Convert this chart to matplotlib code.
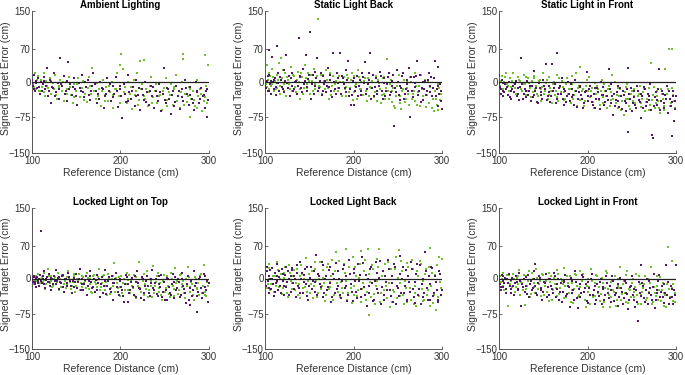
import matplotlib
matplotlib.use("Agg")
import matplotlib.pyplot as plt

plt.rcParams['font.family'] = ['Liberation Sans', 'DejaVu Sans']

titles = ["Ambient Lighting", "Static Light Back", "Static Light in Front",
          "Locked Light on Top", "Locked Light Back", "Locked Light in Front"]
x_ticks = [100, 200, 300]
y_ticks = [-150, -75, 0, 70, 150]
x_label = "Reference Distance (cm)"
y_label = "Signed Target Error (cm)"

# ---------------- Ambient Lighting ----------------
amb_purple = [(100,5),(101,-8),(102,15),(103,-20),(104,2),(106,-12),(107,8),(109,-25),(110,0),(112,-5),(114,10),(115,-15),(117,30),(118,-30),(120,5),(121,-45),(123,-10),(125,20),(127,-22),(129,-3),(131,-35),(132,50),(134,-8),(136,12),(138,-18),(140,-40),(141,42),(143,-5),(145,-28),(147,8),(149,-15),(151,-48),(153,-2),(155,-20),(157,15),(159,-32),(161,-10),(163,5),(165,-38),(167,-18),(169,18),(171,-5),(173,-45),(175,-25),(177,0),(179,-12),(181,-55),(183,-30),(185,8),(187,-20),(189,-40),(191,-8),(193,-25),(195,10),(197,-52),(199,-15),(201,-30),(202,-77),(204,-5),(206,-42),(208,15),(210,-22),(212,-35),(214,-10),(216,-50),(218,5),(220,-28),(222,-60),(224,-15),(226,-38),(228,0),(230,-22),(232,-48),(234,-8),(236,-30),(238,-55),(240,-18),(242,-40),(244,-5),(246,-62),(248,-25),(249,30),(251,-45),(253,-12),(255,-35),(257,-68),(259,-20),(261,-50),(263,-8),(265,-30),(267,-58),(269,-15),(271,-40),(273,5),(275,-25),(277,-48),(279,-10),(281,-35),(283,-60),(285,0),(287,-22),(289,-45),(291,-12),(293,-30),(295,-55),(297,-20),(298,-75),(299,-38)]
amb_purple2 = [(100.5,-3),(102.5,-15),(105,-2),(108,-10),(111,-18),(113,2),(116,-8),(119,-20),(122,0),(124,-12),(126,-30),(130,-15),(133,-5),(137,-25),(139,3),(142,-15),(146,-10),(150,-30),(154,-12),(158,-22),(160,0),(164,-28),(168,-8),(172,-20),(176,-35),(180,-15),(184,-25),(188,-5),(192,-32),(196,-18),(200,-8),(205,-25),(209,-40),(213,-18),(217,-30),(221,-12),(225,-28),(229,-42),(233,-20),(237,-10),(241,-30),(245,-22),(250,-38),(254,-15),(258,-28),(262,-42),(266,-18),(270,-32),(274,-12),(278,-28),(282,-45),(286,-20),(290,-35),(294,-28),(298,-15)]
amb_green = [(100,10),(101,-5),(103,20),(104,-15),(105,0),(107,12),(108,-20),(110,5),(111,-10),(113,18),(115,-30),(116,3),(118,-12),(120,8),(122,-25),(124,-2),(126,15),(128,-35),(130,-8),(132,5),(134,-20),(136,-40),(138,0),(140,-15),(142,10),(144,-28),(146,-45),(148,-5),(150,-18),(152,8),(154,-32),(156,-12),(158,2),(160,-25),(162,-42),(164,10),(166,-8),(168,30),(170,-20),(172,-35),(174,-2),(176,-15),(178,-50),(180,5),(182,-28),(184,-10),(186,-40),(188,-22),(190,0),(192,-55),(194,-15),(196,20),(198,-30),(200,35),(201,60),(203,28),(205,-10),(207,-45),(209,0),(211,-25),(213,-58),(215,5),(217,-20),(219,20),(221,-38),(222,45),(224,-5),(226,-30),(227,47),(229,-15),(231,-50),(233,-8),(235,10),(237,-32),(239,-20),(241,-45),(243,-3),(245,-28),(247,-60),(249,-12),(251,8),(253,-38),(255,-22),(257,-5),(259,-48),(261,-15),(263,15),(265,-30),(267,-55),(269,0),(271,60),(271,48),(273,-25),(275,-42),(277,-10),(278,-75),(280,-35),(282,-20),(284,-50),(286,5),(288,-30),(290,-15),(292,-62),(294,-40),(296,58),(297,-8),(299,35)]
amb_green2 = [(100.5,0),(102,-10),(106,5),(109,-18),(112,-2),(114,-22),(117,-8),(121,2),(125,-15),(127,-28),(131,-12),(135,0),(139,-25),(143,-10),(147,-32),(151,-5),(155,-20),(159,-38),(163,-12),(167,-25),(171,-5),(175,-30),(179,-18),(183,-40),(187,-8),(191,-28),(195,-15),(199,-45),(204,-22),(208,-35),(212,-10),(216,-28),(220,-48),(223,-15),(228,-35),(232,-22),(236,-45),(240,-5),(244,-30),(248,-18),(252,-50),(256,-28),(260,-10),(264,-40),(268,-22),(272,-48),(276,-30),(279,-15),(283,-38),(287,-55),(291,-25),(295,-32),(298,-45)]

# ---------------- Static Light Back ----------------
sback_purple = [(100,10),(101,-12),(102,3),(103,-20),(104,68),(105,15),(106,-5),(107,-25),(108,52),(109,0),(110,-15),(111,8),(112,-28),(113,75),(114,-3),(115,20),(116,-18),(118,5),(119,-10),(121,25),(122,-22),(124,57),(125,-2),(127,12),(128,-30),(130,-8),(131,18),(133,-15),(135,3),(136,-25),(138,94),(139,10),(141,-12),(143,28),(144,-5),(146,58),(147,-20),(149,6),(151,106),(152,-35),(154,15),(156,-8),(157,22),(159,51),(160,-18),(162,2),(164,-28),(165,12),(167,-5),(169,-22),(171,30),(172,-10),(174,5),(176,-32),(177,61),(179,-15),(181,18),(183,-3),(185,62),(186,-25),(188,8),(190,-12),(192,25),(194,44),(195,-30),(197,-49),(199,3),(201,-49),(202,-18),(204,12),(206,-8),(208,-28),(210,20),(212,-2),(213,43),(215,-15),(217,5),(219,61),(220,-35),(222,15),(224,-10),(226,-25),(228,0),(230,22),(232,-18),(234,8),(236,-30),(238,-5),(240,18),(242,-22),(244,2),(246,-94),(247,-12),(249,25),(251,-28),(253,-8),(255,12),(257,-35),(259,-15),(261,5),(263,30),(264,-73),(266,-20),(268,10),(270,-2),(272,44),(273,-28),(275,15),(277,-12),(279,-38),(281,3),(283,-20),(285,20),(287,-8),(289,-30),(291,8),(292,44),(294,-15),(295,-50),(296,31),(297,-25),(298,-5),(299,-40),(300,-58)]
sback_purple2 = [(100.5,-8),(103,12),(105,-18),(107,2),(110,5),(112,-10),(115,-2),(117,10),(120,-15),(123,2),(126,-12),(129,8),(132,-20),(134,0),(137,-8),(140,12),(142,-22),(145,3),(148,-10),(150,15),(153,-5),(155,-25),(158,8),(161,-12),(163,18),(166,-20),(168,2),(170,-8),(173,15),(175,-18),(178,0),(180,-25),(182,8),(184,-12),(187,12),(189,-5),(191,-22),(193,5),(196,-15),(198,-28),(200,8),(203,-10),(205,-30),(207,5),(209,-18),(211,10),(214,-25),(216,-5),(218,20),(221,-12),(223,-30),(225,8),(227,-18),(229,-8),(231,12),(233,-35),(235,-2),(237,-20),(239,10),(241,-28),(243,-8),(245,15),(248,-22),(250,0),(252,-38),(254,-12),(256,18),(258,-25),(260,-5),(262,-18),(265,10),(267,-32),(269,-10),(271,12),(274,-20),(276,-42),(278,0),(280,-15),(282,-28),(284,5),(286,-22),(288,10),(290,-12),(293,-30),(296,-8),(299,-20)]
sback_green = [(100,20),(101,-5),(102,35),(103,5),(104,-15),(106,12),(107,-8),(108,28),(110,-20),(111,2),(113,15),(114,-12),(116,40),(117,-25),(118,51),(119,8),(121,-5),(123,20),(124,-30),(126,5),(128,-15),(129,32),(131,-8),(133,12),(135,-22),(137,22),(138,0),(140,-35),(142,10),(144,-12),(145,35),(147,-5),(149,18),(151,-25),(153,3),(155,28),(156,-15),(158,8),(160,134),(161,-8),(163,15),(165,-20),(167,2),(169,25),(171,-12),(173,5),(175,-28),(177,12),(179,-5),(181,20),(183,-18),(185,0),(187,-30),(189,10),(191,-10),(193,15),(195,-22),(197,5),(199,-38),(201,12),(203,-5),(205,25),(207,-15),(209,0),(211,-28),(213,8),(215,-40),(217,18),(219,-10),(221,3),(223,-32),(225,12),(227,-20),(229,-3),(231,-45),(233,8),(235,-25),(237,-12),(238,49),(240,-35),(242,5),(244,-20),(246,-50),(247,-55),(249,-8),(251,15),(253,-30),(254,-58),(256,-15),(258,-42),(260,2),(262,-25),(264,10),(266,-35),(268,-18),(270,20),(272,-48),(274,-8),(276,15),(278,-30),(280,-15),(282,-52),(284,0),(286,-22),(288,10),(289,-55),(291,-62),(293,-35),(295,-60),(297,-12),(299,-25)]
sback_green2 = [(100.5,5),(102,-10),(105,18),(108,-5),(109,10),(112,-15),(115,5),(117,-8),(120,25),(122,-18),(125,10),(127,-5),(130,-20),(132,15),(134,-10),(136,5),(139,-15),(141,20),(143,-25),(146,8),(148,-12),(150,2),(152,15),(154,-20),(157,-5),(159,12),(162,-10),(164,-25),(166,15),(168,-15),(170,5),(172,-35),(174,18),(176,-8),(178,-20),(180,3),(182,-12),(184,12),(186,-25),(188,0),(190,-15),(192,-30),(194,8),(196,-12),(198,18),(200,-22),(202,-8),(204,-35),(206,10),(208,-15),(210,-28),(212,3),(214,-18),(216,8),(218,-30),(220,-12),(222,15),(224,-22),(226,-40),(228,5),(230,-15),(232,-28),(234,10),(236,-35),(239,-20),(241,-5),(243,-42),(245,-12),(248,-30),(250,0),(252,-45),(255,-20),(257,5),(259,-35),(261,-12),(263,-48),(265,0),(267,-25),(269,-40),(271,-8),(273,-22),(275,-50),(277,-15),(279,-38),(281,5),(283,-28),(285,-45),(287,-10),(290,-35),(292,-20),(294,-48),(296,-5),(298,-38)]

# ---------------- Static Light in Front ----------------
sfront_purple = [(100,15),(101,-10),(102,-25),(103,5),(104,-18),(105,-30),(107,-5),(108,-15),(110,-28),(111,0),(113,-20),(114,-35),(116,-8),(117,-22),(119,3),(120,-30),(122,-12),(123,-38),(125,50),(126,-5),(128,-25),(129,-15),(131,-32),(132,2),(134,-18),(136,-40),(137,-8),(139,24),(140,-28),(142,-12),(144,-45),(145,-2),(147,-22),(149,-35),(150,5),(152,-15),(153,39),(155,-30),(157,-8),(158,-42),(160,38),(161,-20),(163,-5),(165,61),(166,-35),(168,-12),(170,-25),(171,8),(173,-48),(175,-18),(177,-30),(178,0),(180,-40),(182,-15),(184,-28),(186,5),(188,-52),(190,-22),(192,-10),(194,-35),(196,-45),(198,-18),(199,21),(201,-30),(203,-8),(205,-42),(207,-25),(209,-55),(211,-12),(213,-35),(215,0),(217,-28),(219,-48),(221,-18),(223,-38),(224,27),(226,-5),(228,-30),(229,-69),(231,-50),(233,-22),(235,-40),(237,-12),(239,-58),(241,-28),(243,-45),(245,-15),(246,29),(246,-106),(248,-35),(250,-62),(252,-20),(254,-48),(256,-8),(258,-38),(260,-25),(261,-76),(263,-55),(265,-15),(267,-42),(269,-30),(271,-5),(273,-112),(274,-118),(275,-50),(277,-22),(279,-38),(281,27),(282,-60),(284,-18),(286,-45),(288,-28),(290,-8),(291,-66),(293,-35),(294,-50),(296,-114),(297,-20),(298,-82),(299,-40),(300,-30)]
sfront_purple2 = [(100.5,-5),(102,-15),(104,-2),(106,-22),(109,-10),(112,-32),(115,-15),(118,-5),(121,-25),(124,-10),(127,-35),(130,-18),(133,-28),(135,-8),(138,-32),(141,-18),(143,-42),(146,-12),(148,-28),(151,-8),(154,-38),(156,-22),(159,-30),(162,-12),(164,-45),(167,-25),(169,-8),(172,-35),(174,-15),(176,-42),(179,-25),(181,-5),(183,-32),(185,-48),(187,-18),(189,-35),(191,-8),(193,-28),(195,-55),(197,-22),(200,-40),(202,-15),(204,-30),(206,-48),(208,-12),(210,-35),(212,-22),(214,-58),(216,-28),(218,-10),(220,-42),(222,-30),(225,-15),(227,-45),(230,-25),(232,-38),(234,-8),(236,-52),(238,-30),(240,-18),(242,-40),(244,-62),(247,-25),(249,-12),(251,-45),(253,-32),(255,-55),(257,-20),(259,-42),(262,-30),(264,-10),(266,-50),(268,-25),(270,-38),(272,-60),(276,-32),(278,-48),(280,-15),(283,-40),(285,-25),(287,-55),(289,-35),(292,-18),(295,-42),(297,-30),(299,-58)]
sfront_green = [(100,5),(101,-8),(103,12),(104,-15),(106,0),(108,18),(109,-5),(111,-20),(112,8),(114,-10),(116,20),(117,-3),(119,-25),(121,10),(122,-12),(124,2),(126,-18),(128,15),(129,-5),(131,-28),(133,8),(135,-12),(137,3),(138,-22),(140,12),(142,-8),(144,-30),(146,5),(148,-15),(150,18),(151,-25),(153,-2),(155,-35),(157,10),(159,-18),(161,-5),(163,-28),(165,15),(167,-40),(169,-10),(171,2),(173,-22),(175,-35),(177,8),(179,-15),(181,-45),(183,-5),(185,-28),(187,20),(189,-12),(191,-38),(192,32),(194,-20),(196,-50),(198,-8),(200,-30),(202,10),(204,-18),(206,-42),(208,-2),(210,-25),(212,-15),(214,-48),(216,5),(218,-32),(220,-20),(222,-55),(224,-8),(226,-38),(228,15),(230,-25),(232,-45),(234,-12),(236,-30),(238,-60),(240,-18),(241,-69),(243,-35),(245,-5),(247,-50),(249,-25),(251,-40),(253,-15),(255,-55),(257,-30),(259,-8),(261,-45),(263,-22),(265,-62),(267,-35),(269,-12),(271,-48),(272,41),(274,-28),(276,-55),(278,-18),(280,-40),(282,-65),(284,-25),(286,-50),(288,27),(289,-35),(291,-15),(292,70),(294,-45),(296,70),(297,-28),(299,-55)]
sfront_green2 = [(100.5,-10),(102,2),(105,-20),(107,10),(110,-8),(113,-18),(115,3),(118,-12),(120,-30),(123,5),(125,-15),(127,-5),(130,10),(132,-20),(134,-2),(136,-32),(139,8),(141,-15),(143,-25),(145,2),(147,-40),(149,-10),(152,-20),(154,5),(156,-28),(158,-12),(160,-45),(162,0),(164,-18),(166,-32),(168,8),(170,-22),(172,-10),(174,-38),(176,-5),(178,-25),(180,-15),(182,12),(184,-35),(186,-20),(188,-50),(190,-8),(193,-28),(195,-15),(197,-40),(199,5),(201,-20),(203,-32),(205,-12),(207,-55),(209,-25),(211,-8),(213,-38),(215,-18),(217,-45),(219,-5),(221,-30),(223,-15),(225,-50),(227,-22),(229,-35),(231,0),(233,-28),(235,-55),(237,-15),(239,-40),(242,-22),(244,-10),(246,-35),(248,-58),(250,-18),(252,-30),(254,-45),(256,-8),(258,-25),(260,-52),(262,-35),(264,-15),(266,-42),(268,-25),(270,-60),(273,-38),(275,-10),(277,-45),(279,-30),(281,-55),(283,-15),(285,-35),(287,-60),(290,-25),(293,-50),(295,-12),(298,-40)]

# ---------------- Locked Light on Top ----------------
ltop_purple = [(100,2),(101,-8),(102,5),(103,-12),(104,0),(105,-18),(106,3),(107,-5),(108,-15),(109,8),(110,102),(111,-10),(112,-2),(113,15),(115,-20),(116,0),(118,-8),(119,10),(121,-25),(122,2),(124,-12),(125,5),(127,18),(128,-6),(130,-22),(131,3),(133,-10),(135,8),(136,-28),(138,0),(140,-15),(141,12),(143,-5),(145,-30),(147,2),(148,-18),(150,10),(152,-8),(154,20),(155,-25),(157,-2),(159,-12),(161,6),(162,-35),(164,-5),(166,15),(168,-20),(170,0),(171,-28),(173,8),(175,-10),(177,-40),(179,3),(181,-15),(183,18),(184,-32),(186,-5),(188,-22),(190,5),(192,-45),(193,-10),(195,12),(197,-28),(199,-2),(201,-18),(203,-38),(204,-49),(206,8),(208,-12),(209,-49),(211,-25),(213,2),(215,-35),(217,-8),(219,15),(221,-20),(223,-42),(225,0),(226,-46),(228,-15),(230,5),(232,-30),(234,-10),(236,18),(238,-25),(240,-2),(242,-38),(244,-12),(246,8),(248,-28),(250,-45),(252,-46),(253,2),(255,-18),(257,-35),(259,10),(261,-8),(263,-25),(265,0),(267,-40),(269,12),(271,-15),(273,-30),(274,-52),(276,5),(278,-20),(279,-56),(281,-38),(283,15),(285,-10),(287,-71),(288,-28),(290,3),(292,-42),(294,10),(296,-18),(298,-5),(299,-49)]
ltop_purple2 = [(100.5,-3),(102,3),(103,-8),(105,2),(107,-10),(108,0),(110,-5),(112,5),(114,-12),(116,-3),(117,3),(119,-8),(120,-15),(123,0),(126,-5),(127,-12),(129,2),(132,-8),(134,5),(135,-18),(137,-2),(139,-10),(142,3),(144,-15),(146,-5),(149,-8),(151,-20),(153,0),(156,-12),(158,-25),(160,-3),(163,-15),(165,5),(167,-8),(169,-18),(172,-3),(174,-25),(176,0),(178,-12),(180,-30),(182,-5),(185,-15),(187,3),(189,-28),(191,-10),(194,0),(196,-18),(198,-35),(200,-5),(202,-25),(205,-12),(207,3),(210,-30),(212,-8),(214,-18),(216,5),(218,-40),(220,-10),(222,-22),(224,3),(227,-30),(229,-5),(231,-15),(233,-38),(235,0),(237,-20),(239,-10),(241,-32),(243,5),(245,-18),(247,-40),(249,-8),(251,-25),(254,0),(256,-30),(258,-12),(260,-42),(262,3),(264,-20),(266,-8),(268,-35),(270,0),(272,-22),(275,-12),(277,-45),(280,-5),(282,-25),(284,-15),(286,-38),(289,0),(291,-20),(293,-30),(295,5),(297,-25),(300,-10)]
ltop_green = [(100,8),(101,-3),(102,-12),(104,5),(105,-6),(107,10),(108,-15),(110,0),(112,-8),(113,12),(115,-22),(117,3),(118,20),(120,-10),(122,5),(123,-18),(125,0),(127,-5),(129,12),(130,-25),(132,-2),(134,8),(136,-12),(138,-20),(139,3),(141,15),(143,-8),(145,-15),(147,5),(149,-28),(151,0),(153,10),(155,-10),(157,-18),(158,3),(160,-5),(162,12),(164,-22),(166,0),(168,-30),(170,8),(172,-12),(174,-3),(176,21),(178,-18),(180,5),(182,-25),(184,-8),(186,10),(188,-32),(190,-2),(192,-15),(193,32),(195,2),(197,-20),(199,-38),(201,5),(203,-10),(205,-25),(207,12),(209,-3),(211,-30),(213,-15),(215,8),(217,-42),(219,-8),(221,36),(222,-20),(224,2),(226,-35),(228,-12),(230,15),(232,-25),(234,-5),(236,-40),(237,26),(239,-15),(241,5),(243,-28),(245,-10),(247,-45),(249,8),(251,-20),(253,-2),(255,-32),(257,12),(259,-15),(261,-38),(262,23),(264,-5),(266,-25),(268,10),(270,-12),(272,-30),(274,0),(276,25),(278,-18),(280,-8),(282,-35),(284,3),(286,-22),(288,-10),(290,5),(292,-30),(294,29),(295,-36),(297,-38),(299,-15)]
ltop_green2 = [(100.5,3),(103,-5),(106,2),(109,-10),(111,4),(114,-3),(116,-12),(119,5),(121,-5),(124,-15),(126,3),(128,-8),(131,0),(133,-18),(135,5),(137,-5),(140,-12),(142,2),(144,-22),(146,-8),(148,10),(150,-15),(152,-3),(154,-25),(156,5),(159,-10),(161,-20),(163,2),(165,-12),(167,-28),(169,5),(171,-8),(173,-18),(175,3),(177,-25),(179,-10),(181,8),(183,-15),(185,-35),(187,-2),(189,-20),(191,5),(194,-28),(196,-10),(198,3),(200,-18),(202,-30),(204,0),(206,-12),(208,-25),(210,8),(212,-5),(214,-20),(216,-38),(218,3),(220,-15),(223,-28),(225,-5),(227,10),(229,-22),(231,-40),(233,0),(235,-15),(238,-30),(240,-8),(242,12),(244,-20),(246,-35),(248,-5),(250,-28),(252,5),(254,-15),(256,-40),(258,0),(260,-22),(263,-10),(265,-32),(267,8),(269,-18),(271,-5),(273,-42),(275,-15),(277,3),(279,-28),(281,-12),(283,-45),(285,0),(287,-20),(289,-35),(291,10),(293,-15),(296,-28),(298,-8)]

# ---------------- Locked Light Back ----------------
lback_purple = [(100,10),(101,-15),(102,25),(103,-5),(104,-30),(105,5),(106,18),(107,-22),(108,0),(110,-38),(111,12),(112,-10),(113,30),(115,-25),(116,3),(117,-15),(119,20),(120,-5),(121,-35),(123,8),(124,-18),(126,15),(127,-2),(129,-28),(130,22),(132,-10),(133,5),(135,-40),(136,12),(138,-20),(139,35),(141,0),(143,-30),(144,8),(146,-12),(148,25),(149,-45),(151,2),(153,-22),(155,15),(156,-8),(158,49),(159,-35),(161,5),(163,-18),(165,28),(166,-40),(168,0),(170,-25),(172,18),(173,-10),(175,-50),(177,10),(179,-30),(180,32),(182,-15),(184,-2),(186,-42),(188,20),(190,-20),(192,5),(194,-35),(195,40),(197,-12),(199,-48),(201,12),(203,-28),(205,30),(206,-5),(208,-40),(210,45),(212,-18),(214,8),(215,-58),(217,-30),(219,20),(221,-10),(223,-45),(225,35),(227,-22),(229,2),(231,-55),(233,15),(235,-35),(237,-8),(239,40),(241,-25),(243,5),(245,-50),(247,25),(249,-15),(251,-38),(253,48),(255,0),(257,-30),(259,18),(261,-45),(263,-8),(265,35),(267,-22),(269,-52),(271,10),(273,-35),(275,28),(277,-12),(279,-40),(281,57),(283,-20),(285,5),(287,-45),(289,22),(291,-30),(293,-8),(295,-50),(297,15),(299,-35),(300,-25)]
lback_purple2 = [(100.5,-8),(102,15),(104,-20),(106,0),(108,22),(109,-12),(111,-28),(113,5),(114,-5),(116,15),(118,-30),(120,10),(122,-15),(124,25),(125,-8),(127,-35),(129,5),(131,18),(133,-22),(134,-2),(136,28),(137,-15),(140,-30),(142,12),(144,-8),(145,20),(147,-38),(150,-15),(152,25),(154,-5),(157,-28),(160,10),(162,-12),(164,35),(167,-30),(169,5),(171,-18),(174,25),(176,-40),(178,0),(181,-22),(183,15),(185,-35),(187,-5),(189,28),(191,-15),(193,-48),(196,10),(198,-28),(200,20),(202,-5),(204,-42),(207,8),(209,-22),(211,32),(213,-35),(216,0),(218,-15),(220,25),(222,-48),(224,-5),(226,12),(228,-30),(230,38),(232,-18),(234,-45),(236,5),(238,-25),(240,20),(242,-38),(244,-10),(246,30),(248,-55),(250,-20),(252,10),(254,-30),(256,25),(258,-15),(260,-48),(262,5),(264,-28),(266,20),(268,-40),(270,-8),(272,30),(274,-22),(276,-55),(278,0),(280,-30),(282,15),(284,-45),(286,-12),(288,25),(290,-38),(292,5),(294,-25),(296,-45),(298,10)]
lback_green = [(100,-5),(101,15),(102,-20),(104,30),(105,0),(107,-12),(108,22),(110,-28),(111,5),(113,-8),(114,35),(116,-18),(118,10),(119,-32),(121,2),(123,25),(124,-15),(126,-40),(128,12),(129,-5),(131,-22),(133,18),(135,-10),(137,-35),(139,5),(141,28),(143,-20),(144,-2),(146,44),(148,-28),(150,10),(152,-12),(154,-42),(156,20),(158,-5),(160,-30),(162,35),(164,-15),(166,2),(168,-48),(170,25),(172,-22),(174,-8),(176,40),(178,-35),(180,57),(181,-10),(183,15),(185,-40),(187,-20),(189,30),(191,-5),(192,62),(194,-30),(196,10),(198,-52),(200,-15),(202,25),(204,-38),(206,2),(208,59),(210,-22),(212,15),(214,-45),(216,62),(218,-78),(219,-8),(221,28),(223,-32),(225,-15),(227,42),(229,62),(230,-50),(232,5),(234,-25),(236,30),(238,-42),(240,-10),(242,20),(244,-50),(246,-28),(248,45),(250,2),(251,60),(253,-38),(255,15),(257,-55),(259,-20),(261,32),(263,-8),(265,-45),(267,20),(269,-30),(271,-58),(273,5),(275,38),(277,-22),(279,-48),(281,10),(283,-35),(285,25),(287,64),(288,-15),(290,-52),(292,8),(293,-66),(295,-40),(297,45),(299,-20),(300,42)]
lback_green2 = [(100.5,12),(103,-12),(105,22),(106,-25),(109,5),(112,-15),(115,18),(117,0),(120,-20),(122,12),(125,-30),(127,28),(130,-10),(132,5),(134,-25),(136,20),(138,-12),(140,-42),(142,10),(145,-18),(147,25),(149,-5),(151,-30),(153,15),(155,-15),(157,35),(159,-40),(161,0),(163,-22),(165,18),(167,-10),(169,-35),(171,30),(173,-18),(175,5),(177,-45),(179,15),(182,-28),(184,38),(186,-8),(188,-30),(190,12),(193,-45),(195,25),(197,-20),(199,45),(201,-35),(203,5),(205,-25),(207,30),(209,-50),(211,-10),(213,40),(215,-28),(217,10),(220,-40),(222,20),(224,-55),(226,-5),(228,25),(231,-30),(233,15),(235,-45),(237,-15),(239,35),(241,-60),(243,5),(245,-25),(247,20),(249,-42),(252,-10),(254,38),(256,-35),(258,-5),(260,-50),(262,25),(264,-20),(266,40),(268,-55),(270,-15),(272,15),(274,-38),(276,30),(278,-5),(280,-45),(282,20),(284,-25),(286,-58),(289,12),(291,-35),(294,28),(296,-50),(298,-8)]

# ---------------- Locked Light in Front ----------------
lfront_purple = [(100,5),(101,-12),(102,-25),(103,8),(104,-5),(105,-18),(107,2),(108,-30),(110,-10),(111,10),(113,-22),(114,-3),(116,-15),(117,-35),(119,5),(120,-8),(122,-25),(123,12),(125,-59),(126,-12),(128,0),(129,-28),(131,-15),(133,8),(134,-40),(136,-5),(138,-20),(140,15),(141,31),(142,-30),(144,-10),(146,2),(148,-25),(149,-45),(151,-8),(153,10),(155,-18),(157,-35),(158,-2),(160,-22),(162,12),(164,-40),(165,-12),(167,0),(169,-28),(171,-50),(173,-8),(175,8),(177,-32),(179,-18),(180,-61),(182,-5),(184,-25),(186,15),(188,-42),(189,-63),(191,-12),(193,-30),(195,3),(197,-20),(199,-48),(201,-8),(203,-35),(205,10),(207,-25),(209,-55),(211,-12),(213,-38),(215,0),(217,-22),(219,-45),(221,5),(223,-30),(225,-15),(227,-50),(229,-5),(231,-35),(233,-20),(235,-58),(237,2),(239,-28),(241,-42),(243,-10),(245,-32),(246,-64),(248,-18),(250,5),(252,-45),(254,-61),(255,-25),(257,-90),(258,-8),(260,-38),(261,29),(263,-15),(265,-50),(267,0),(269,-30),(271,-20),(273,-45),(275,10),(276,-63),(278,-25),(280,-5),(282,-40),(284,-15),(286,-52),(288,-30),(289,28),(291,-8),(293,-42),(295,-22),(297,-54),(299,-35),(300,28)]
lfront_purple2 = [(100.5,-5),(102,-18),(104,5),(106,-10),(108,-22),(109,0),(112,-15),(114,-30),(115,2),(118,-10),(121,-22),(124,-5),(127,-18),(130,3),(132,-32),(135,-12),(137,-25),(139,0),(141,-15),(143,-35),(145,5),(147,-20),(150,-28),(152,-10),(154,-40),(156,0),(159,-15),(161,-30),(163,5),(166,-22),(168,-45),(170,-10),(172,-28),(174,-5),(176,-38),(178,-15),(181,2),(183,-30),(185,-45),(187,-8),(190,-22),(192,-40),(194,8),(196,-28),(198,-12),(200,-52),(202,-20),(204,0),(206,-35),(208,-15),(210,-45),(212,-28),(214,-8),(216,-55),(218,-18),(220,-35),(222,-10),(224,-42),(226,-25),(228,5),(230,-48),(232,-30),(234,-12),(236,-40),(238,-20),(240,-55),(242,-5),(244,-30),(247,-45),(249,-15),(251,-35),(253,-22),(256,-50),(259,-30),(262,-10),(264,-42),(266,-25),(268,-55),(270,-5),(272,-35),(274,-18),(277,-45),(279,-30),(281,8),(283,-28),(285,-40),(287,-12),(290,-35),(292,-55),(294,-15),(296,-40),(298,-25)]
lfront_green = [(100,-61),(101,5),(102,-8),(104,12),(105,-15),(107,0),(108,-22),(110,-59),(111,8),(113,-5),(115,-18),(116,10),(118,-28),(120,2),(121,-12),(123,18),(125,-8),(127,-25),(129,-56),(130,5),(132,-15),(134,15),(136,-32),(138,0),(140,-10),(142,20),(144,-22),(146,-5),(148,-38),(150,8),(152,-15),(154,-28),(156,12),(158,-8),(160,-45),(162,2),(164,-20),(166,18),(168,-32),(170,-2),(172,-12),(174,22),(176,-40),(178,-10),(180,5),(182,-25),(184,-52),(186,10),(188,-15),(190,-35),(192,15),(194,-5),(196,-28),(198,-60),(200,0),(202,-18),(204,20),(206,-40),(208,-10),(210,8),(212,-30),(214,-48),(216,2),(218,-61),(220,-20),(222,12),(224,-35),(225,-61),(227,-8),(229,-25),(231,5),(233,-45),(235,-15),(237,25),(239,-32),(241,-5),(243,-50),(245,15),(247,-22),(249,-40),(251,0),(253,-28),(255,10),(257,-55),(259,-12),(261,-35),(263,-20),(265,5),(267,-42),(269,-28),(271,-10),(272,25),(274,-50),(276,-30),(278,-15),(280,-45),(282,3),(284,-25),(286,-58),(288,-35),(290,-12),(291,68),(293,-40),(295,-20),(296,37),(297,-48),(299,-30)]
lfront_green2 = [(100.5,-15),(103,-2),(106,-25),(109,8),(112,-12),(114,-30),(117,0),(119,-18),(122,5),(124,-35),(126,-10),(128,8),(131,-22),(133,-5),(135,-40),(137,12),(139,-18),(141,-30),(143,2),(145,-12),(147,-25),(149,10),(151,-35),(153,-5),(155,-18),(157,-48),(159,5),(161,-25),(163,-12),(165,-38),(167,10),(169,-20),(171,-5),(173,-42),(175,-15),(177,5),(179,-30),(181,-50),(183,-10),(185,-22),(187,8),(189,-40),(191,-18),(193,-30),(195,10),(197,-45),(199,-15),(201,-28),(203,-55),(205,-5),(207,-25),(209,-38),(211,5),(213,-18),(215,-32),(217,-10),(219,-50),(221,15),(223,-22),(226,-40),(228,-5),(230,-28),(232,-58),(234,0),(236,-20),(238,-45),(240,-12),(242,-30),(244,8),(246,-52),(248,-25),(250,-10),(252,-40),(254,-18),(256,-35),(258,5),(260,-55),(262,-28),(264,-12),(266,-45),(268,0),(270,-30),(273,-55),(275,-18),(277,-38),(279,5),(281,-25),(283,-48),(285,-10),(287,-30),(289,-60),(292,-22),(294,-40),(297,-12),(299,-50)]

panels = [
    (amb_purple + amb_purple2, amb_green + amb_green2),
    (sback_purple + sback_purple2, sback_green + sback_green2),
    (sfront_purple + sfront_purple2, sfront_green + sfront_green2),
    (ltop_purple + ltop_purple2, ltop_green + ltop_green2),
    (lback_purple + lback_purple2, lback_green + lback_green2),
    (lfront_purple + lfront_purple2, lfront_green + lfront_green2),
]

purple = "#521a66"
green = "#6cc02e"
text_col = "#333333"
spine_col = "#555555"

fig = plt.figure(figsize=(6.85, 3.75), dpi=100)
lefts = [32 / 685, 265 / 685, 499 / 685]
w = 177 / 685
rows = [(1 - 153 / 375, 142 / 375), (1 - 349 / 375, 141 / 375)]

for i, (title, (pp, gg)) in enumerate(zip(titles, panels)):
    r, c = divmod(i, 3)
    b, h = rows[r]
    ax = fig.add_axes([lefts[c], b, w, h])
    gx, gy = zip(*gg)
    px, py = zip(*pp)
    ax.scatter(gx, gy, s=3.6, marker='s', color=green, linewidths=0, zorder=2)
    ax.scatter(px, py, s=3.6, marker='s', color=purple, linewidths=0, zorder=3)
    ax.plot([100, 300], [0, 0], color="#222222", lw=0.9, zorder=4)
    ax.set_xlim(100, 300)
    ax.set_ylim(-150, 150)
    ax.set_xticks(x_ticks)
    ax.set_yticks(y_ticks)
    ax.tick_params(direction='in', length=2, width=0.6, labelsize=7,
                   colors=spine_col, labelcolor=text_col, pad=1)
    ax.tick_params(axis='x', pad=2)
    for s in ['top', 'right']:
        ax.spines[s].set_visible(False)
    for s in ['left', 'bottom']:
        ax.spines[s].set_color(spine_col)
        ax.spines[s].set_linewidth(0.7)
    ax.set_title(title, fontsize=7, fontweight='bold', color='black', pad=2.5)
    ax.set_xlabel(x_label, fontsize=7.5, color=text_col, labelpad=1.5)
    ax.set_ylabel(y_label, fontsize=7.5, color=text_col, va='center')
    ax.yaxis.set_label_coords(-0.148, 0.53)

fig.savefig("out.png", dpi=100)
